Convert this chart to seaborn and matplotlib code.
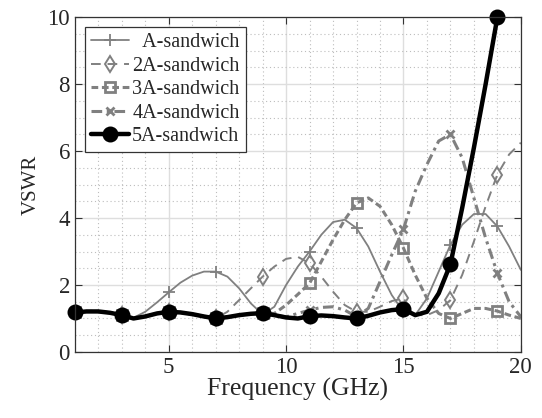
import numpy as np
import pandas as pd
import matplotlib
matplotlib.use("Agg")
import matplotlib.pyplot as plt
import seaborn as sns
from matplotlib.ticker import MultipleLocator

# ---- data ----
freq = [1, 1.5, 2, 2.5, 3, 3.5, 4, 4.5, 5, 5.5, 6, 6.5, 7, 7.5, 8, 8.5, 9, 9.5,
        10, 10.5, 11, 11.5, 12, 12.5, 13, 13.5, 14, 14.5, 15, 15.5, 16, 16.5,
        17, 17.5, 18, 18.5, 19, 19.5, 20]

a_sandwich = [1.18, 1.21, 1.21, 1.17, 1.10, 1.02, 1.20, 1.48, 1.78, 2.07, 2.28, 2.40,
              2.40, 2.25, 1.90, 1.45, 1.12, 1.35, 2.00, 2.55, 3.00, 3.50, 3.88, 3.95,
              3.70, 3.15, 2.40, 1.70, 1.20, 1.10, 1.60, 2.40, 3.20, 3.80, 4.12, 4.12,
              3.75, 3.15, 2.45]

a2_sandwich = [1.18, 1.21, 1.21, 1.17, 1.10, 1.00, 1.06, 1.15, 1.20, 1.18, 1.13, 1.06,
               1.00, 1.20, 1.55, 1.90, 2.25, 2.55, 2.78, 2.84, 2.65, 2.25, 1.80, 1.40,
               1.20, 1.20, 1.35, 1.52, 1.60, 1.10, 1.10, 1.25, 1.55, 2.30, 3.30, 4.35,
               5.30, 5.90, 6.25]

a3_sandwich = [1.18, 1.21, 1.21, 1.17, 1.10, 1.00, 1.06, 1.15, 1.20, 1.18, 1.13, 1.06,
               1.00, 1.04, 1.10, 1.14, 1.16, 1.15, 1.40, 1.72, 2.05, 2.70, 3.35, 3.95,
               4.45, 4.60, 4.35, 3.80, 3.10, 2.30, 1.60, 1.15, 1.00, 1.15, 1.30, 1.30,
               1.22, 1.10, 1.00]

a4_sandwich = [1.18, 1.21, 1.21, 1.17, 1.10, 1.00, 1.06, 1.15, 1.20, 1.18, 1.13, 1.06,
               1.00, 1.04, 1.10, 1.14, 1.16, 1.10, 1.05, 1.15, 1.25, 1.33, 1.35, 1.25,
               1.05, 1.30, 2.10, 2.90, 3.67, 4.80, 5.60, 6.30, 6.50, 5.80, 4.60, 3.40,
               2.35, 1.50, 1.05]

a5_sandwich = [1.18, 1.21, 1.21, 1.17, 1.10, 1.00, 1.06, 1.15, 1.20, 1.18, 1.13, 1.06,
               1.00, 1.04, 1.10, 1.14, 1.16, 1.10, 1.03, 1.00, 1.07, 1.09, 1.07, 1.03,
               1.00, 1.08, 1.18, 1.25, 1.28, 1.10, 1.20, 1.75, 2.62, 4.30, 6.10, 8.00,
               10.0, np.nan, np.nan]

labels = ["A-sandwich", "2A-sandwich", "3A-sandwich", "4A-sandwich", "5A-sandwich"]
x_ticks = [5, 10, 15, 20]
y_ticks = [0, 2, 4, 6, 8, 10]

# ---- styling ----
sns.set_style("ticks")
plt.rcParams["font.family"] = ["Liberation Serif", "DejaVu Serif"]
plt.rcParams["mathtext.fontset"] = "stix"

fig = plt.figure(figsize=(5.42, 4.18), dpi=100)
ax = fig.add_axes([0.138, 0.158, 0.823, 0.801])

gray = "#808080"
mark_idx = [i for i, f in enumerate(freq) if float(f).is_integer() and int(f) % 2 == 1]

styles = [
    dict(color=gray, linestyle="-", linewidth=1.3, marker="+", markersize=9,
         markeredgewidth=1.3, markeredgecolor=gray),
    dict(color=gray, linestyle=(0, (5, 3.5)), linewidth=1.4, marker="d", markersize=8.5,
         markerfacecolor="none", markeredgecolor=gray, markeredgewidth=1.4),
    dict(color=gray, linestyle=(0, (2.2, 1.2)), linewidth=2.2, marker="s", markersize=7,
         markerfacecolor="none", markeredgecolor=gray, markeredgewidth=2.0),
    dict(color=gray, linestyle=(0, (3.5, 1.5, 1, 1.5)), linewidth=2.2, marker="x",
         markersize=6, markeredgewidth=2.0, markeredgecolor=gray),
    dict(color="black", linestyle="-", linewidth=3.2, marker="o", markersize=10,
         markerfacecolor="black", markeredgecolor="black", markeredgewidth=1.5,
         clip_on=False),
]
series = [a_sandwich, a2_sandwich, a3_sandwich, a4_sandwich, a5_sandwich]

width = max(len(l) for l in labels)
for lab, vals, st in zip(labels, series, styles):
    df = pd.DataFrame({"freq": freq, "vswr": vals}).dropna()
    sns.lineplot(data=df, x="freq", y="vswr", ax=ax, label=lab.rjust(width, "\u2007"),
                 markevery=mark_idx, sort=False, estimator=None, **st)

ax.set_xlim(1, 20)
ax.set_ylim(0, 10)
ax.set_xticks(x_ticks)
ax.set_yticks(y_ticks)
ax.xaxis.set_minor_locator(MultipleLocator(1))
ax.yaxis.set_minor_locator(MultipleLocator(0.5))
ax.grid(which="major", color="#dedede", linewidth=1.0, linestyle="-")
ax.grid(which="minor", color="#bdbdbd", linewidth=0.8, linestyle=(0, (1, 2.5)))
ax.set_axisbelow(True)
ax.tick_params(which="both", direction="in", top=True, right=True, labelsize=16.5,
               color="#333333")
ax.tick_params(which="major", length=5)
ax.tick_params(which="minor", length=0)
for s in ax.spines.values():
    s.set_color("#333333")
    s.set_linewidth(0.9)
ax.set_xlabel("Frequency (GHz)", fontsize=18.5, labelpad=0)
ax.set_ylabel("VSWR", fontsize=15, labelpad=5)

leg = ax.legend(loc="upper left", fontsize=14.5, frameon=True, fancybox=False,
                framealpha=1, edgecolor="#333333", borderpad=0.3, labelspacing=0.22,
                handlelength=1.9, handletextpad=0.15, borderaxespad=0.5)
leg.get_frame().set_linewidth(0.9)

fig.savefig("out.png", dpi=100)
